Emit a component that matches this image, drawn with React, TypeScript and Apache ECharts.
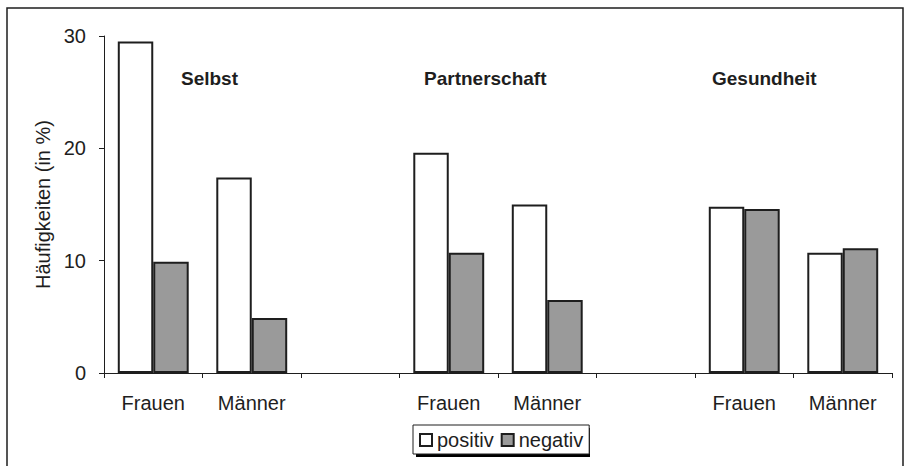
import React, { useEffect, useRef } from "react";
import * as echarts from "echarts";

const groups = ["Selbst", "Partnerschaft", "Gesundheit"];
const categories = ["S-Frauen", "S-Männer", "gap1", "P-Frauen", "P-Männer", "gap2", "G-Frauen", "G-Männer"];
const categoryLabels = ["Frauen", "Männer", "", "Frauen", "Männer", "", "Frauen", "Männer"];
const positiv = [29.5, 17.4, null, 19.6, 15.0, null, 14.8, 10.7];
const negativ = [9.9, 4.9, null, 10.7, 6.5, null, 14.6, 11.1];
const yTicks = [0, 10, 20, 30];
const seriesNames = ["positiv", "negativ"];

const FONT = "'Liberation Sans', Arial, Helvetica, sans-serif";
const INK = "#1e1e1e";

export default function App() {
  const ref = useRef<HTMLDivElement>(null);
  useEffect(() => {
    if (!ref.current) return;
    const chart = echarts.init(ref.current, undefined, { renderer: "svg" });
    const titleX = [181, 424, 712];
    chart.setOption({
      animation: false,
      backgroundColor: "#ffffff",
      textStyle: { fontFamily: FONT, color: INK },
      grid: { left: 104, right: 17, top: 36, bottom: 93, containLabel: false },
      xAxis: {
        type: "category",
        data: categories,
        axisLine: { show: true, lineStyle: { color: INK, width: 1 } },
        axisTick: { show: true, length: 5, lineStyle: { color: INK } },
        axisLabel: {
          margin: 20,
          fontSize: 20,
          color: INK,
          fontFamily: FONT,
          interval: 0,
          formatter: (_v: string, i: number) => categoryLabels[i],
        },
        splitLine: { show: false },
      },
      yAxis: {
        type: "value",
        min: yTicks[0],
        max: yTicks[yTicks.length - 1],
        interval: 10,
        name: "Häufigkeiten (in %)",
        nameLocation: "middle",
        nameGap: 44,
        nameRotate: 90,
        nameTextStyle: { fontSize: 20, color: INK, fontFamily: FONT },
        axisLine: { show: true, lineStyle: { color: INK, width: 1 } },
        axisTick: { show: true, length: 5, lineStyle: { color: INK } },
        axisLabel: { margin: 18, fontSize: 20, color: INK, fontFamily: FONT },
        splitLine: { show: false },
      },
      legend: {
        left: 413,
        top: 425,
        orient: "horizontal",
        data: seriesNames,
        icon: "rect",
        itemWidth: 12,
        itemHeight: 12,
        itemGap: 7,
        padding: [5, 6, 4, 6],
        backgroundColor: "#ffffff",
        borderColor: INK,
        borderWidth: 1,
        borderRadius: 0,
        textStyle: { fontSize: 20, color: INK, fontFamily: FONT },
        selectedMode: false,
      },
      graphic: [
        {
          type: "rect",
          shape: { x: 7, y: 8, width: 896, height: 480 },
          style: { fill: "none", stroke: INK, lineWidth: 1.5 },
          silent: true,
          z: -1,
        },
        {
          type: "rect",
          shape: { x: 416, y: 428, width: 174, height: 29 },
          style: { fill: "#000" },
          silent: true,
          z: 0,
        },
        ...groups.map((g, i) => ({
          type: "text",
          x: titleX[i],
          y: 78,
          style: {
            text: g,
            font: `bold 19px ${FONT}`,
            fill: INK,
            verticalAlign: "middle",
            align: "left",
          },
          silent: true,
        })),
      ],
      series: [
        {
          name: seriesNames[0],
          type: "bar",
          data: positiv,
          barGap: "0%",
          barCategoryGap: "28%",
          itemStyle: { color: "#ffffff", borderColor: INK, borderWidth: 2 },
        },
        {
          name: seriesNames[1],
          type: "bar",
          data: negativ,
          barGap: "0%",
          barCategoryGap: "28%",
          itemStyle: { color: "#9a9a9a", borderColor: INK, borderWidth: 2 },
        },
      ],
    });
    return () => chart.dispose();
  }, []);
  return (
    <div
      ref={ref}
      style={{ position: "fixed", left: 0, top: 0, width: 909, height: 466 }}
    />
  );
}
